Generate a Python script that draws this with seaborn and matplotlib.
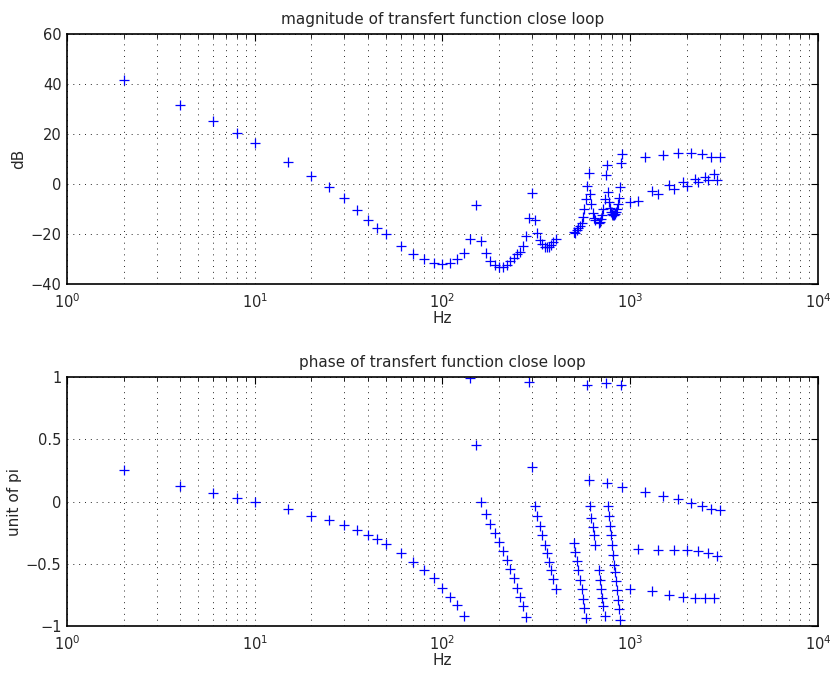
import matplotlib
matplotlib.use("Agg")
from matplotlib import pyplot as plt
from matplotlib.ticker import LogLocator, FixedLocator
import seaborn as sns
import pandas as pd

# frequencies (Hz) of the measured points
freq = [2, 4, 6, 8, 10, 15, 20, 25, 30, 35, 40, 45, 50,
        60, 70, 80, 90, 100, 110, 120, 130, 140, 150, 160, 170, 180, 190, 200,
        210, 220, 230, 240, 250, 260, 270, 280, 290, 300, 310, 320, 330, 340,
        350, 360, 370, 380, 390, 400,
        500, 510, 520, 530, 540, 550, 560, 570, 580, 590, 600, 610, 620, 630, 640, 650,
        680, 690, 700, 710, 720, 730, 740, 750, 760, 770, 780, 790, 800, 810, 820,
        830, 840, 850, 860, 870, 880, 890, 900,
        1000, 1100, 1200, 1300, 1400, 1500, 1600, 1700, 1800, 1900, 2000,
        2100, 2200, 2300, 2400, 2500, 2600, 2700, 2800, 2900, 3000]

# magnitude in dB
mag = [41.6, 31.6, 25.3, 20.3, 16.5, 8.9, 3.3, -1.3, -5.5, -10.4, -14.4, -17.7, -20.1,
       -24.8, -28.0, -30.1, -31.7, -32.0, -31.7, -30.1, -27.5, -22.1, -8.4, -22.8, -27.7, -30.7, -32.4, -33.1,
       -33.1, -32.4, -30.8, -29.7, -28.1, -27.0, -24.8, -20.6, -13.7, -3.7, -14.4, -19.7, -22.4, -24.0,
       -25.0, -25.3, -25.0, -24.4, -23.1, -22.1,
       -19.0, -19.5, -18.5, -17.7, -16.8, -15.5, -13.0, -10.0, -6.0, -0.8, 4.3, -4.0, -8.0, -11.5, -13.5, -14.5,
       -15.5, -15.0, -14.0, -12.5, -10.0, -6.0, 3.6, 7.6, -3.0, -7.0, -9.5, -11.0, -12.0, -12.4, -12.4,
       -12.0, -11.0, -10.0, -8.0, -5.5, -1.0, 8.3, 12.0,
       -7.1, -6.8, 10.7, -2.8, -3.8, 11.5, -0.5, -2.0, 12.3, 0.9, -0.7,
       12.4, 2.2, 0.8, 12.0, 3.0, 1.5, 10.7, 4.2, 1.5, 10.7]

# phase in units of pi
phase = [0.249, 0.128, 0.067, 0.027, -0.005, -0.061, -0.115, -0.152, -0.192, -0.232, -0.267, -0.299, -0.339,
         -0.414, -0.486, -0.548, -0.614, -0.695, -0.767, -0.834, -0.922, 0.99, 0.455, 0.0, -0.099, -0.179, -0.249, -0.326,
         -0.401, -0.468, -0.54, -0.615, -0.695, -0.767, -0.84, -0.927, 0.962, 0.281, -0.034, -0.12, -0.2, -0.273,
         -0.347, -0.414, -0.486, -0.553, -0.622, -0.70,
         -0.334, -0.409, -0.481, -0.553, -0.634, -0.703, -0.780, -0.855, -0.935, 0.936, 0.174, -0.04, -0.133, -0.205, -0.273, -0.347,
         -0.548, -0.628, -0.703, -0.775, -0.842, -0.922, 0.949, 0.148, -0.04, -0.12, -0.2, -0.273, -0.347, -0.427, -0.508,
         -0.566, -0.642, -0.714, -0.788, -0.863, -0.949, 0.936, 0.115,
         -0.705, -0.379, 0.075, -0.72, -0.393, 0.046, -0.748, -0.393, 0.022, -0.767, -0.393,
         -0.013, -0.775, -0.401, -0.04, -0.775, -0.414, -0.061, -0.775, -0.441, -0.067]

df = pd.DataFrame({"Hz": freq, "dB": mag, "phase": phase})

sns.set_style("white")
plt.rcParams["font.family"] = ["DejaVu Sans"]
plt.rcParams["axes.unicode_minus"] = True
plt.rcParams["mathtext.fontset"] = "dejavusans"

FS = 10.5
fig = plt.figure(figsize=(8.33, 6.81), dpi=100)
ax1 = fig.add_axes([67 / 833, 1 - 284 / 681, 751 / 833, 250 / 681])
ax2 = fig.add_axes([67 / 833, 1 - 626 / 681, 751 / 833, 249 / 681])


def style_axis(ax):
    ax.set_xscale("log")
    ax.set_xlim(1, 1e4)
    ax.xaxis.set_major_locator(LogLocator(base=10, numticks=10))
    ax.xaxis.set_minor_locator(LogLocator(base=10, subs=range(2, 10), numticks=50))
    ax.grid(True, which="both", axis="x", color="k", linestyle=(0, (1, 5)), linewidth=0.7, alpha=0.85)
    ax.grid(True, which="major", axis="y", color="k", linestyle=(0, (1, 5)), linewidth=0.7, alpha=0.85)
    ax.tick_params(which="both", direction="in", top=True, right=True, labelsize=FS, color="k")
    ax.tick_params(which="major", length=5, width=0.8)
    ax.tick_params(which="minor", length=3, width=0.6)
    ax.tick_params(axis="y", pad=4)
    ax.tick_params(axis="x", pad=6)
    for s in ax.spines.values():
        s.set_color("k")
        s.set_linewidth(1.2)


sns.scatterplot(data=df, x="Hz", y="dB", ax=ax1, marker="+", color="blue", s=60, linewidth=0.9)
style_axis(ax1)
ax1.set_ylim(-40, 60)
ax1.yaxis.set_major_locator(FixedLocator([-40, -20, 0, 20, 40, 60]))
ax1.set_title("magnitude of transfert function close loop", fontsize=11, pad=7)
ax1.set_xlabel("Hz", fontsize=11, labelpad=0)
ax1.set_ylabel("dB", fontsize=11, labelpad=3)

sns.scatterplot(data=df, x="Hz", y="phase", ax=ax2, marker="+", color="blue", s=60, linewidth=0.9)
style_axis(ax2)
ax2.set_ylim(-1, 1)
ax2.set_yticks([-1, -0.5, 0, 0.5, 1])
ax2.set_yticklabels(["\u22121", "\u22120.5", "0", "0.5", "1"])
ax2.set_title("phase of transfert function close loop", fontsize=11, pad=7)
ax2.set_xlabel("Hz", fontsize=11, labelpad=0)
ax2.set_ylabel("unit of pi", fontsize=11, labelpad=3)

plt.savefig("out.png", dpi=100)
